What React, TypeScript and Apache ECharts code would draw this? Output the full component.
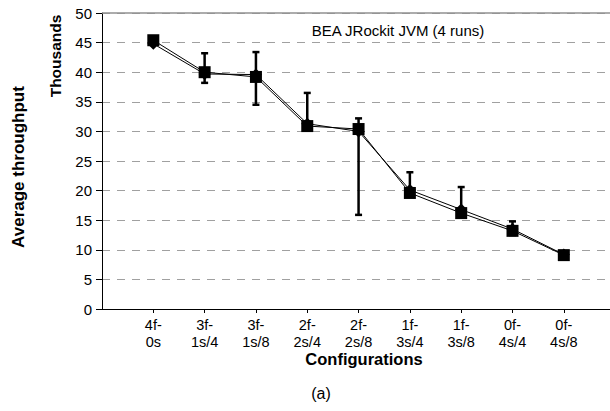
import React, { useEffect, useRef } from "react";
import * as echarts from "echarts";

const categories = ["4f-\n0s", "3f-\n1s/4", "3f-\n1s/8", "2f-\n2s/4", "2f-\n2s/8", "1f-\n3s/4", "1f-\n3s/8", "0f-\n4s/4", "0f-\n4s/8"];
const squareValues = [45.4, 40.0, 39.2, 30.9, 30.4, 19.6, 16.2, 13.2, 9.1];
const diamondValues = [44.8, 39.7, 39.6, 31.3, 30.0, 20.1, 16.8, 13.5, 9.2];
const errorLow = [45.0, 38.2, 34.5, 30.2, 15.9, 19.0, 15.6, 12.5, 8.6];
const errorHigh = [45.8, 43.2, 43.4, 36.5, 32.2, 23.1, 20.6, 14.8, 9.6];
const yTicks = [0, 5, 10, 15, 20, 25, 30, 35, 40, 45, 50];

const FONT = "'Liberation Sans', Arial, sans-serif";

export default function App() {
  const ref = useRef<HTMLDivElement>(null);
  useEffect(() => {
    if (!ref.current) return;
    const chart = echarts.init(ref.current, null, { renderer: "svg" });
    const sq = squareValues.map((v, i) => [i + 1, v]);
    const di = diamondValues.map((v, i) => [i + 1, v]);
    const err = errorLow.map((v, i) => [i + 1, v, errorHigh[i]]);
    const yMax = yTicks[yTicks.length - 1];
    chart.setOption({
      animation: false,
      backgroundColor: "#fff",
      textStyle: { fontFamily: FONT },
      grid: { left: 102, top: 13, width: 508, height: 296 },
      xAxis: {
        type: "value",
        min: 0,
        max: 9.9,
        interval: 1,
        axisLine: { show: true, lineStyle: { color: "#000", width: 1 } },
        axisTick: { show: true, length: 4, lineStyle: { color: "#000" } },
        splitLine: { show: false },
        axisLabel: {
          color: "#000",
          fontSize: 14.5,
          fontFamily: FONT,
          lineHeight: 17,
          margin: 7,
          showMaxLabel: false,
          showMinLabel: false,
          formatter: (v: number) => {
            const i = Math.round(v);
            if (Math.abs(v - i) > 1e-6 || i < 1 || i > categories.length) return "";
            return categories[i - 1];
          },
        },
      },
      yAxis: {
        type: "value",
        min: yTicks[0],
        max: yMax,
        interval: 5,
        axisLine: { show: true, lineStyle: { color: "#000", width: 1 } },
        axisTick: { show: true, length: 6, lineStyle: { color: "#000" } },
        splitLine: { show: true, lineStyle: { color: "#a0a0a0", type: [8, 7], width: 1 } },
        axisLabel: { color: "#000", fontSize: 15, fontFamily: FONT, margin: 10 },
      },
      series: [
        {
          type: "custom",
          data: err,
          z: 1,
          renderItem: (params: any, api: any) => {
            const x = api.value(0);
            const lo = api.coord([x, api.value(1)]);
            const hi = api.coord([x, api.value(2)]);
            const cw = 3.5;
            const st = { stroke: "#000", lineWidth: 2.5 };
            return {
              type: "group",
              children: [
                { type: "line", shape: { x1: lo[0], y1: lo[1], x2: hi[0], y2: hi[1] }, style: st },
                { type: "line", shape: { x1: lo[0] - cw, y1: lo[1], x2: lo[0] + cw, y2: lo[1] }, style: st },
                { type: "line", shape: { x1: hi[0] - cw, y1: hi[1], x2: hi[0] + cw, y2: hi[1] }, style: st },
              ],
            };
          },
        },
        {
          type: "line",
          data: di,
          z: 2,
          symbol: "diamond",
          symbolSize: 12,
          lineStyle: { color: "#000", width: 1 },
          itemStyle: { color: "#000" },
          markLine: {
            silent: true,
            symbol: "none",
            label: { show: false },
            lineStyle: { color: "#909090", type: "solid", width: 1.5 },
            data: [{ yAxis: yMax }],
          },
        },
        {
          type: "line",
          data: sq,
          z: 3,
          symbol: "rect",
          symbolSize: 12,
          lineStyle: { color: "#000", width: 1 },
          itemStyle: { color: "#000" },
        },
      ],
      graphic: [
        {
          type: "text",
          x: 398,
          y: 30,
          style: { text: "BEA JRockit JVM (4 runs)", fontSize: 15, fontFamily: FONT, fill: "#000", align: "center", verticalAlign: "middle" },
        },
        {
          type: "text",
          x: 18,
          y: 167,
          rotation: Math.PI / 2,
          style: { text: "Average throughput", fontSize: 17, fontWeight: "bold", fontFamily: FONT, fill: "#000", align: "center", verticalAlign: "middle" },
        },
        {
          type: "text",
          x: 55,
          y: 56,
          rotation: Math.PI / 2,
          style: { text: "Thousands", fontSize: 15.5, fontWeight: "bold", fontFamily: FONT, fill: "#000", align: "center", verticalAlign: "middle" },
        },
        {
          type: "text",
          x: 364,
          y: 359,
          style: { text: "Configurations", fontSize: 16.5, fontWeight: "bold", fontFamily: FONT, fill: "#000", align: "center", verticalAlign: "middle" },
        },
        {
          type: "text",
          x: 321,
          y: 393,
          style: { text: "(a)", fontSize: 16, fontFamily: FONT, fill: "#000", align: "center", verticalAlign: "middle" },
        },
      ],
    });
    return () => chart.dispose();
  }, []);
  return <div ref={ref} style={{ width: 610, height: 411, position: "absolute", left: 0, top: 0 }} />;
}
